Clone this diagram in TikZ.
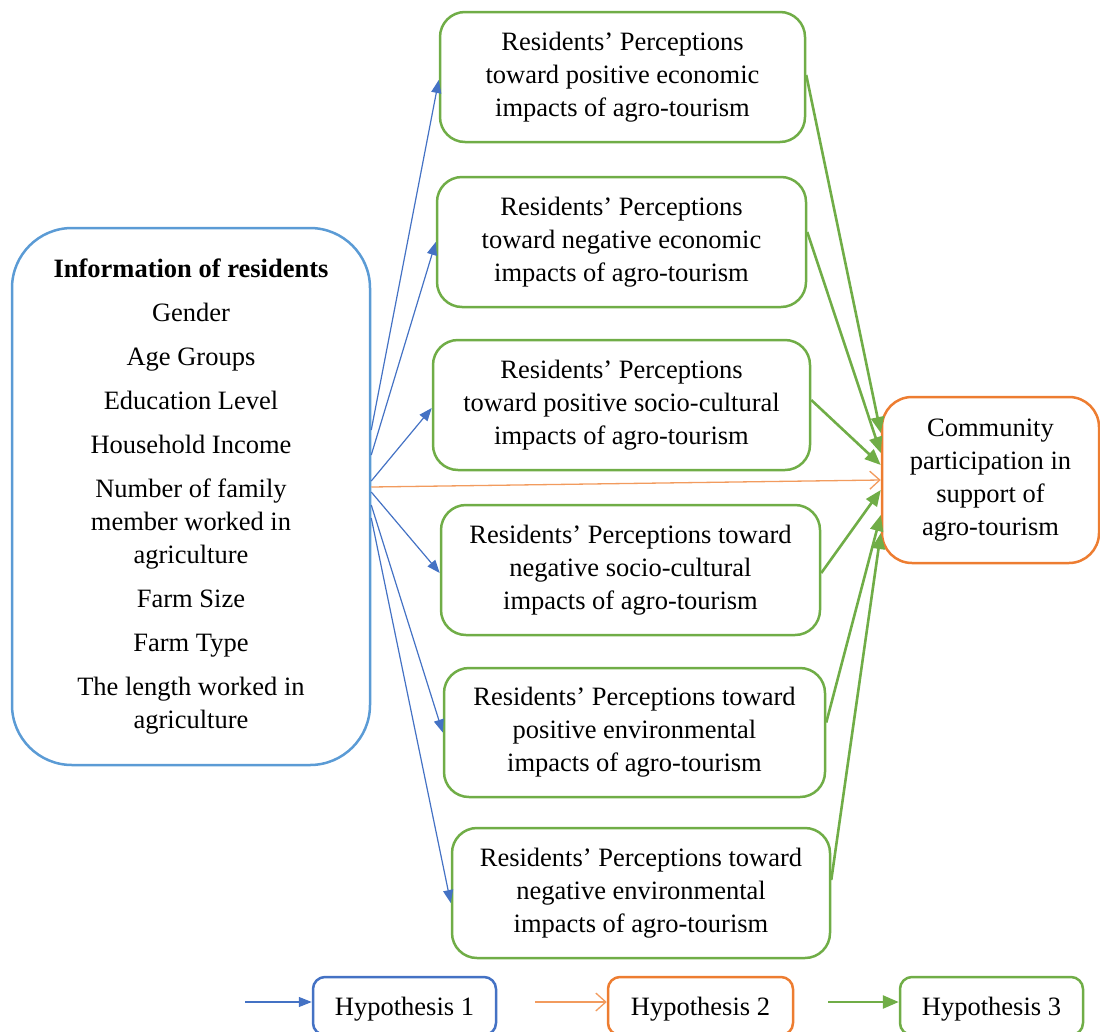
\documentclass[tikz,border=0pt]{standalone}
\usepackage{fontspec}
\setmainfont{Liberation Serif}
\usetikzlibrary{arrows.meta,calc}
\definecolor{lblue}{HTML}{5B9BD5}
\definecolor{dblue}{HTML}{4472C4}
\definecolor{ogreen}{HTML}{70AD47}
\definecolor{oorange}{HTML}{ED7D31}
\definecolor{lorange}{HTML}{F29B5E}
\begin{document}
\begin{tikzpicture}[x=1pt,y=-1pt,
  every node/.style={font=\fontsize{26.5}{33}\selectfont, align=center, inner sep=0pt,
    execute at begin node={\rule{0pt}{24pt}}},
  gbox/.style={draw=ogreen, line width=2.5pt, rounded corners=25pt, minimum height=130pt},
  lbox/.style={draw=lblue, line width=2.5pt, rounded corners=60pt},
  cbox/.style={draw=oorange, line width=2.5pt, rounded corners=30pt},
  hbox/.style={line width=2.5pt, rounded corners=12pt, minimum height=58pt},
  barrow/.style={draw=dblue, line width=1.2pt, -{Triangle[length=13pt,width=10pt]}},
  oarrow/.style={draw=lorange, line width=1.3pt, -{Straight Barb[length=10pt,width=18pt]}},
  garrow/.style={draw=ogreen, line width=2.6pt, -{Triangle[length=16pt,width=13pt]}}]
\useasboundingbox (0,0) rectangle (1100,1031);

\node[lbox, minimum width=358pt, minimum height=537pt] (L) at (191,496.5) {%
\textbf{Information of residents}\\[11pt]
Gender\\[11pt]
Age Groups\\[11pt]
Education Level\\[11pt]
Household Income\\[11pt]
Number of family\\ member worked in\\ agriculture\\[11pt]
Farm Size\\[11pt]
Farm Type\\[11pt]
The length worked in\\ agriculture};

\node[gbox, minimum width=365pt] (b1) at (622.5,77) {Residents’ Perceptions\\ toward positive economic\\ impacts of agro-tourism};
\node[gbox, minimum width=369pt] (b2) at (621.5,242) {Residents’ Perceptions\\ toward negative economic\\ impacts of agro-tourism};
\node[gbox, minimum width=377pt] (b3) at (621.5,405) {Residents’ Perceptions\\ toward positive socio-cultural\\ impacts of agro-tourism};
\node[gbox, minimum width=379pt] (b4) at (630.5,570) {Residents’ Perceptions toward\\ negative socio-cultural\\ impacts of agro-tourism};
\node[gbox, minimum width=381pt, minimum height=129pt] (b5) at (634.5,732.5) {Residents’ Perceptions toward\\ positive environmental\\ impacts of agro-tourism};
\node[gbox, minimum width=378pt] (b6) at (641,893) {Residents’ Perceptions toward\\ negative environmental\\ impacts of agro-tourism};

\node[cbox, minimum width=217pt, minimum height=166pt] (C) at (990.5,480) {Community\\ participation in\\ support of\\ agro-tourism};

% Hypothesis 1 arrows
\draw[barrow] ([yshift=66.5pt]L.east) -- ([yshift=-3pt]b1.west);
\draw[barrow] ([yshift=41.5pt]L.east) -- (b2.west);
\draw[barrow] ([yshift=15.5pt]L.east) -- ([yshift=-3pt]b3.west);
\draw[barrow] ([yshift=4.5pt]L.east) -- ([yshift=-3pt]b4.west);
\draw[barrow] ([yshift=-8.5pt]L.east) -- (b5.west);
\draw[barrow] ([yshift=-21.5pt]L.east) -- ([yshift=-10pt]b6.west);

% Hypothesis 2 arrow
\draw[oarrow] ([yshift=9.5pt]L.east) -- ([yshift=0pt]C.west);

% Hypothesis 3 arrows
\draw[garrow] ([yshift=2pt]b1.east) -- ([yshift=47pt]C.west);
\draw[garrow] ([yshift=10pt]b2.east) -- ([yshift=27pt]C.west);
\draw[garrow] ([yshift=5pt]b3.east) -- ([yshift=15pt]C.west);
\draw[garrow] ([yshift=-3pt]b4.east) -- ([yshift=-10pt]C.west);
\draw[garrow] ([yshift=10pt]b5.east) -- ([yshift=-35pt]C.west);
\draw[garrow] ([yshift=13pt]b6.east) -- ([yshift=-53pt]C.west);

% Legend
\node[hbox, draw=dblue, minimum width=183pt] (H1) at (404.5,1006) {Hypothesis 1};
\node[hbox, draw=oorange, minimum width=185pt] (H2) at (700.5,1006) {Hypothesis 2};
\node[hbox, draw=ogreen, minimum width=183pt] (H3) at (991.5,1006) {Hypothesis 3};
\coordinate (l1) at (245,1002);
\coordinate (l2) at (535,1002);
\coordinate (l3) at (828,1002);
\draw[barrow] (l1) -- ([yshift=4pt]H1.west);
\draw[oarrow] (l2) -- ([yshift=4pt]H2.west);
\draw[garrow] (l3) -- ([yshift=4pt]H3.west);
\end{tikzpicture}
\end{document}
